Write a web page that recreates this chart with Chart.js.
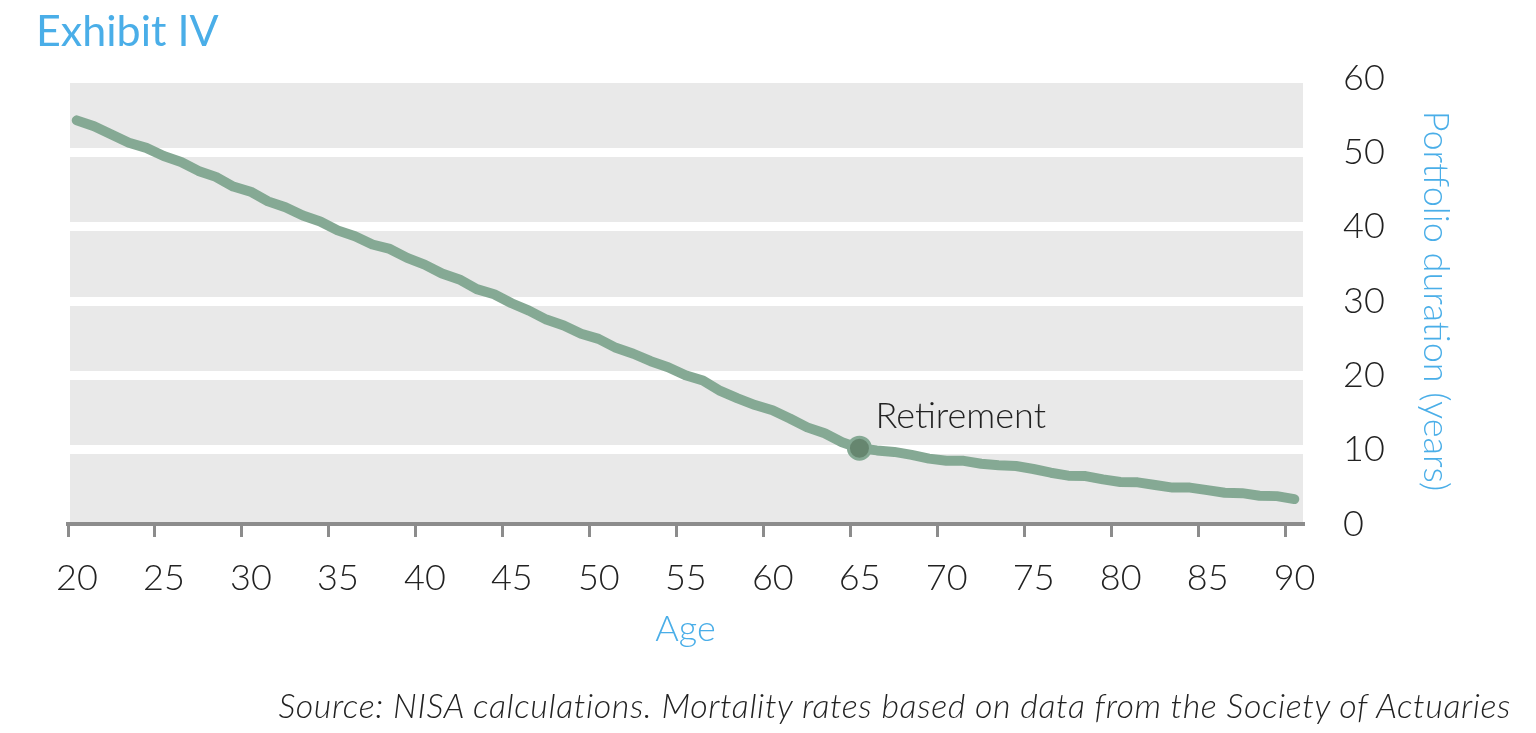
<!DOCTYPE html>
<html>
<head>
<meta charset="utf-8">
<script src="https://cdn.jsdelivr.net/npm/chart.js@4.4.1/dist/chart.umd.min.js"></script>
<style>
  html, body { margin: 0; padding: 0; background: #ffffff; }
  #wrap { position: relative; width: 1536px; height: 733px; overflow: hidden; }
  #chart { position: absolute; left: 0; top: 0; }
  #title { position: absolute; left: 36px; top: 4px; font-family: Lato, sans-serif; font-size: 43px; color: #4aaee8; white-space: nowrap; }
  #source { position: absolute; right: 25px; top: 684px; font-family: Lato, sans-serif; font-weight: 300; font-style: italic; font-size: 34px; letter-spacing: 0.6px; color: #222; white-space: nowrap; }
</style>
</head>
<body>
<div id="wrap">
  <canvas id="chart" width="1536" height="733"></canvas>
  <div id="title">Exhibit IV</div>
  <div id="source">Source: NISA calculations. Mortality rates based on data from the Society of Actuaries</div>
</div>
<script>
const ages = [20,21,22,23,24,25,26,27,28,29,30,31,32,33,34,35,36,37,38,39,40,41,42,43,44,45,46,47,48,49,50,51,52,53,54,55,56,57,58,59,60,61,62,63,64,65,66,67,68,69,70,71,72,73,74,75,76,77,78,79,80,81,82,83,84,85,86,87,88,89,90];
const duration = [54.3,53.5,52.4,51.3,50.6,49.5,48.7,47.5,46.7,45.4,44.7,43.4,42.6,41.5,40.7,39.5,38.7,37.6,37.0,35.8,34.9,33.7,32.9,31.6,30.9,29.7,28.7,27.5,26.7,25.6,24.9,23.7,22.9,21.9,21.1,20.0,19.3,17.9,16.9,16.0,15.3,14.2,13.0,12.2,11.0,10.2,9.9,9.7,9.3,8.8,8.5,8.5,8.1,7.9,7.8,7.4,6.9,6.5,6.45,6.0,5.65,5.6,5.25,4.9,4.9,4.55,4.2,4.15,3.8,3.75,3.35];
const xTickLabels = [20,25,30,35,40,45,50,55,60,65,70,75,80,85,90];
const yTickLabels = [0,10,20,30,40,50,60];
const retirementAge = 65;
const retirementLabel = 'Retirement';

const points = ages.map((a, i) => ({ x: a, y: duration[i] }));

const bgPlugin = {
  id: 'bg',
  beforeDraw(chart) {
    const { ctx, chartArea } = chart;
    ctx.save();
    ctx.fillStyle = '#e9e9e9';
    ctx.fillRect(chartArea.left + 2, chartArea.top, chartArea.right - chartArea.left - 2, chartArea.bottom - chartArea.top);
    ctx.restore();
  }
};

const labelPlugin = {
  id: 'retLabel',
  afterDatasetsDraw(chart) {
    const { ctx, scales } = chart;
    const idx = ages.indexOf(retirementAge);
    const px = scales.x.getPixelForValue(retirementAge);
    const py = scales.y.getPixelForValue(duration[idx]);
    ctx.save();
    ctx.font = '300 36px Lato, sans-serif';
    ctx.fillStyle = '#222222';
    ctx.textAlign = 'left';
    ctx.textBaseline = 'alphabetic';
    ctx.fillText(retirementLabel, px + 16, py - 20);
    ctx.restore();
  }
};

new Chart(document.getElementById('chart'), {
  type: 'line',
  data: {
    datasets: [{
      data: points,
      borderColor: '#85a994',
      borderWidth: 10,
      borderCapStyle: 'round',
      borderJoinStyle: 'round',
      tension: 0,
      fill: false,
      pointRadius: (c) => (c.raw && c.raw.x === retirementAge ? 11 : 0),
      pointHoverRadius: (c) => (c.raw && c.raw.x === retirementAge ? 11 : 0),
      pointBackgroundColor: '#66866f',
      pointBorderColor: '#85a994',
      pointBorderWidth: 3
    }]
  },
  options: {
    responsive: false,
    animation: false,
    events: [],
    layout: { padding: { left: 68, right: 0, top: 78, bottom: 60 } },
    plugins: { legend: { display: false }, tooltip: { enabled: false } },
    scales: {
      x: {
        type: 'linear',
        position: 'bottom',
        min: ages[0] - 0.5,
        max: ages[ages.length - 1] + 0.5,
        afterBuildTicks(scale) {
          scale.ticks = xTickLabels.map(v => ({ value: v - 0.5 }));
        },
        afterFit(scale) { scale.height = 149; },
        grid: {
          display: true,
          drawOnChartArea: false,
          drawTicks: true,
          tickLength: 13,
          color: '#8c8c8c',
          lineWidth: 3
        },
        border: { display: true, color: '#8c8c8c', width: 4 },
        ticks: {
          autoSkip: false,
          maxRotation: 0,
          labelOffset: 9,
          padding: 20,
          color: '#222222',
          font: { family: 'Lato, sans-serif', size: 36, weight: '300' },
          callback: (v) => String(v + 0.5)
        },
        title: {
          display: true,
          text: 'Age',
          color: '#4aaee8',
          font: { family: 'Lato, sans-serif', size: 36, weight: '300' },
          padding: { top: 0, bottom: 22 }
        }
      },
      y: {
        type: 'linear',
        position: 'right',
        min: yTickLabels[0],
        max: yTickLabels[yTickLabels.length - 1],
        afterBuildTicks(scale) {
          scale.ticks = yTickLabels.map(v => ({ value: v }));
        },
        afterFit(scale) { scale.width = 233; },
        grid: {
          display: true,
          drawOnChartArea: true,
          drawTicks: false,
          color: (c) => (c.tick && c.tick.value === 0 ? 'rgba(0,0,0,0)' : '#ffffff'),
          lineWidth: 9
        },
        border: { display: false },
        ticks: {
          padding: 40,
          color: '#222222',
          font: { family: 'Lato, sans-serif', size: 36, weight: '300' }
        },
        title: {
          display: true,
          text: 'Portfolio duration (years)',
          color: '#4aaee8',
          font: { family: 'Lato, sans-serif', size: 36, weight: '300' },
          padding: { top: 79, bottom: 0 }
        }
      }
    }
  },
  plugins: [bgPlugin, labelPlugin]
});
</script>
</body>
</html>
